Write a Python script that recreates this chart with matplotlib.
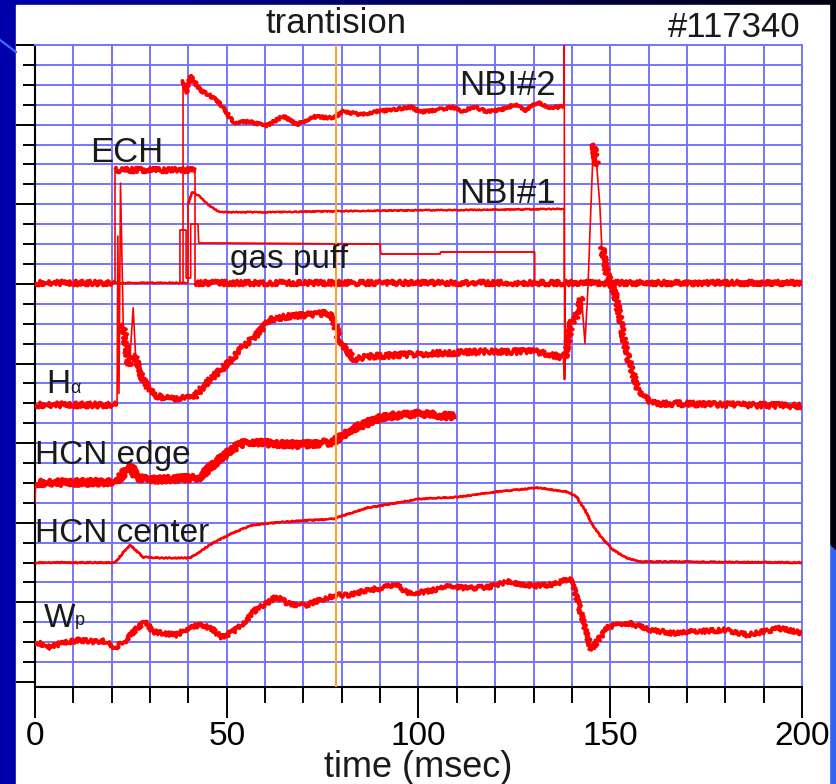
import numpy as np
import matplotlib.pyplot as plt
from matplotlib.patches import Rectangle, Polygon
from matplotlib.lines import Line2D

plt.rcParams['font.family'] = ['Liberation Sans', 'DejaVu Sans']

# Shot #117340 waveforms, stacked on one vertical scale (1 unit = 1 grid row)
ech_t = [0, 20.9, 20.9, 41.7, 41.7, 200]
ech_v = [20.05, 20.05, 25.7, 25.7, 20.05, 20.05]

nbi2_t = [38.6, 38.6, 39.5, 40.6, 43, 47.4, 50, 51.7, 56, 60.4, 64.8, 68.2, 72.6, 77.8,
          80.4, 84.8, 89, 92.6, 98.2, 100.4, 105, 109, 111.6, 114.3, 117.8, 121.2, 125.6,
          127.5, 131.2, 133.5, 137.9, 138.0, 138.1, 138.3, 200]
nbi2_v = [20.05, 30.25, 29.6, 30.45, 29.75, 29.25, 28.6, 28.1, 28.15, 27.94, 28.44, 28.0,
          28.4, 28.33, 28.66, 28.5, 28.66, 28.74, 28.88, 28.63, 28.75, 28.88, 28.66, 28.9,
          28.66, 28.74, 29.03, 28.7, 29.11, 28.88, 28.88, 32.0, 15.2, 20.05, 20.05]

nbi1_t = [0, 39.9, 39.9, 41, 43, 45.6, 48.2, 60, 78, 100, 120, 138, 138, 200]
nbi1_v = [20.05, 20.05, 24.0, 24.6, 24.4, 23.9, 23.6, 23.6, 23.65, 23.7, 23.72, 23.77,
          20.05, 20.05]

gas_t = [0, 37.8, 37.8, 39.4, 39.4, 40.6, 40.6, 42.5, 42.7, 90, 90.2, 105.6, 105.8,
         130.3, 130.3, 200]
gas_v = [20.05, 20.05, 22.7, 22.7, 20.3, 20.3, 23.0, 23.0, 22.05, 22.0, 21.5, 21.5, 21.6,
         21.6, 20.05, 20.05]

ha_t = [0, 21.4, 21.6, 21.9, 22.3, 23.0, 24.5, 25.0, 25.6, 26.2, 26.9, 28.2, 30.9, 34.3,
        41.3, 43.9, 46.5, 50.8, 54.3, 57.8, 61.3, 65.6, 70.8, 76.1, 77.8, 79.1, 81.3, 83.4,
        86.5, 100.4, 117.8, 130.8, 137.8, 138.0, 138.3, 139.8, 141.0, 142.5, 143.4, 143.8,
        144.2, 144.7, 145.2, 145.6, 146.5, 147.3, 147.8, 149.1, 151.2, 152.5, 154.3, 156.9,
        158.6, 161.2, 200]
ha_v = [13.92, 13.92, 22.4, 14.5, 25.06, 18.0, 15.85, 17.0, 18.8, 16.5, 15.68, 15.18, 14.42,
        14.26, 14.26, 14.84, 15.34, 16.1, 16.85, 17.44, 18.19, 18.36, 18.44, 18.53, 18.28,
        17.35, 16.68, 16.18, 16.35, 16.48, 16.6, 16.6, 16.3, 15.2, 16.3, 18.03, 18.28, 19.36,
        17.02, 18.4, 19.86, 22.56, 25.06, 27.07, 25.9, 23.9, 21.87, 20.54, 19.53, 18.36,
        16.52, 14.84, 14.34, 14.0, 13.87]

edge_t = [0, 0.2, 21.3, 24.7, 26.5, 30, 41.2, 43, 47.4, 51.7, 55.2, 60.4, 69.1, 77.8, 82.1,
          86.5, 90.8, 100.3, 109.4]
edge_v = [9.0, 10.0, 10.05, 10.9, 10.3, 10.15, 10.25, 10.3, 11.07, 11.74, 12.08, 12.0,
          11.91, 12.06, 12.66, 13.0, 13.33, 13.5, 13.32]

center_t = [0, 20.8, 24.7, 28.2, 31.7, 40.4, 46.4, 51.6, 56.8, 64.6, 77.6, 86.4, 100.3,
            110.7, 120.3, 131, 138.6, 141.2, 143.4, 145.6, 148.2, 150.8, 154.3, 157.8, 200]
center_v = [6.0, 6.0, 6.88, 6.28, 6.23, 6.23, 6.98, 7.49, 7.89, 8.04, 8.19, 8.74, 9.2, 9.3,
            9.55, 9.76, 9.56, 9.31, 8.64, 7.8, 7.14, 6.63, 6.22, 6.05, 6.0]

wp_t = [0, 3.9, 7.4, 11.7, 15.2, 17.8, 20.9, 23.9, 26.5, 28.7, 30.8, 33.5, 36.9, 40.4, 43.9,
        46.5, 48.7, 51.7, 55.2, 57.8, 60.4, 63, 65.6, 68.2, 70.8, 74.3, 78.7, 82.1, 86.5, 90,
        93.9, 97.4, 102.2, 107.8, 113.4, 118.9, 123.1, 130.1, 135.7, 139.5, 141.2, 143.3,
        145.1, 146.8, 149.6, 155.1, 160.7, 166.3, 171.8, 180.2, 185.8, 194.1, 200]
wp_v = [2.03, 1.74, 1.98, 2.11, 2.03, 2.07, 1.74, 2.11, 2.7, 3.03, 2.53, 2.45, 2.36, 2.78,
        2.86, 2.61, 2.24, 2.53, 3.12, 3.7, 3.95, 4.29, 3.98, 3.87, 3.87, 4.12, 4.37, 4.37,
        4.62, 4.7, 4.92, 4.46, 4.54, 4.79, 4.71, 4.79, 5.04, 4.82, 4.92, 5.21, 4.29, 2.78,
        1.61, 2.11, 2.78, 2.95, 2.61, 2.45, 2.53, 2.61, 2.36, 2.7, 2.45]

transition_t = 78.6
x_major = [0, 50, 100, 150, 200]
x_minor = list(range(0, 201, 10))
y_major = list(range(0, 33, 4))
y_minor = list(range(0, 33))

W, H = 837, 784
fig = plt.figure(figsize=(W / 100, H / 100), dpi=100)

# slide background
bg = fig.add_axes([0, 0, 1, 1])
ramp = np.zeros((2, 256, 3))
ramp[..., 2] = np.linspace(0.67, 0.06, 256)
bg.imshow(ramp, extent=[0, W, H, 0], aspect='auto')
bg.add_patch(Polygon([[829, 545], [W, 552], [W, H], [829, H]], color='#3262ee'))
bg.add_patch(Rectangle((16, 5), 813, 779, color='white'))
bg.add_line(Line2D([0, 16], [40, 52], color='#3f6cff', lw=1.6))
bg.set_xlim(0, W)
bg.set_ylim(H, 0)
bg.axis('off')

ax = fig.add_axes([35 / W, 1 - 687 / H, 767 / W, 642 / H])
ax.set_xlim(0, 200)
ax.set_ylim(-0.25, 32)

grid_c = '#7474ff'
ax.hlines(y_minor[1:-1], 0, 200, color=grid_c, lw=1.4, zorder=1)
ax.vlines(x_minor[1:-1], -0.25, 32, color=grid_c, lw=1.4, zorder=1)
for side in ['top', 'right']:
    ax.spines[side].set_color(grid_c)
    ax.spines[side].set_linewidth(1.4)
for side in ['left', 'bottom']:
    ax.spines[side].set_color('black')
    ax.spines[side].set_linewidth(1.5)

ax.set_xticks(x_major)
ax.set_xticks(x_minor, minor=True)
ax.set_yticks(y_major)
ax.set_yticks(y_minor, minor=True)
ax.tick_params(axis='y', which='major', length=13.7, width=1.4, labelleft=False)
ax.tick_params(axis='y', which='minor', length=8.6, width=1.4)
ax.tick_params(axis='x', which='major', length=22.3, width=1.4, labelsize=24, pad=2)
ax.tick_params(axis='x', which='minor', length=11.5, width=1.4)

RED = '#ff0000'
# pixels per ms and per row, used to tell sharp edges from slow parts of a trace
PX_T, PX_V = 767 / 200, 637 / 32


def trace(t, v, lw, jitter):
    t = np.asarray(t, float)
    v = np.asarray(v, float)
    # thin clean line for the whole waveform (sharp edges stay crisp)
    ax.plot(t, v, color=RED, lw=1.2, zorder=3)
    # thicker digitiser-noise look only on the slow segments
    steep = np.abs(np.diff(v) * PX_V) > 8 * np.abs(np.diff(t) * PX_T)
    xs, ys = [], []
    for i, s in enumerate(steep):
        if s:
            xs.append(np.nan)
            ys.append(np.nan)
            continue
        xs += [t[i], t[i + 1]]
        ys += [v[i], v[i + 1]]
    ln, = ax.plot(xs, ys, color=RED, lw=lw, zorder=3, solid_capstyle='butt')
    if jitter:
        ln.set_sketch_params(scale=jitter, length=2.5, randomness=3)


trace(gas_t, gas_v, 1.1, 0)
trace(nbi1_t, nbi1_v, 1.6, 0.6)
trace(ech_t, ech_v, 2.6, 2.6)
trace(nbi2_t, nbi2_v, 2.5, 1.4)
trace(ha_t, ha_v, 2.6, 2.8)
trace(edge_t, edge_v, 3.6, 3.0)
trace(center_t, center_v, 1.8, 0.6)
trace(wp_t, wp_v, 2.5, 2.2)

ax.axvline(transition_t, color='#ffa030', lw=1.5, zorder=4)

lab_kw = dict(color='#1a1a1a', va='baseline', ha='left', zorder=5)
ax.text(110.5, 29.49, 'NBI#2', fontsize=25, **lab_kw)
ax.text(110.5, 24.06, 'NBI#1', fontsize=25, **lab_kw)
ax.text(14.3, 26.12, 'ECH', fontsize=25, **lab_kw)
ax.text(50.8, 20.80, 'gas puff', fontsize=24, **lab_kw)
ax.text(3.0, 14.52, 'H', fontsize=24, **lab_kw)
ax.text(9.3, 14.52, 'α', fontsize=13, **lab_kw)
ax.text(0.1, 10.95, 'HCN edge', fontsize=24, **lab_kw)
ax.text(0.1, 7.05, 'HCN center', fontsize=24, **lab_kw)
ax.text(2.3, 2.76, 'W', fontsize=24, **lab_kw)
ax.text(10.4, 2.86, 'p', fontsize=13, **lab_kw)

fig.text(336.5 / W, 1 - 33 / H, 'trantision', fontsize=25, color='#1a1a1a',
         ha='center', va='baseline')
fig.text(801 / W, 1 - 37 / H, '#117340', fontsize=25, color='#1a1a1a',
         ha='right', va='baseline')
fig.text(418 / W, 1 - 777 / H, 'time (msec)', fontsize=26, color='#1a1a1a',
         ha='center', va='baseline')

fig.savefig('out.png', dpi=100)
